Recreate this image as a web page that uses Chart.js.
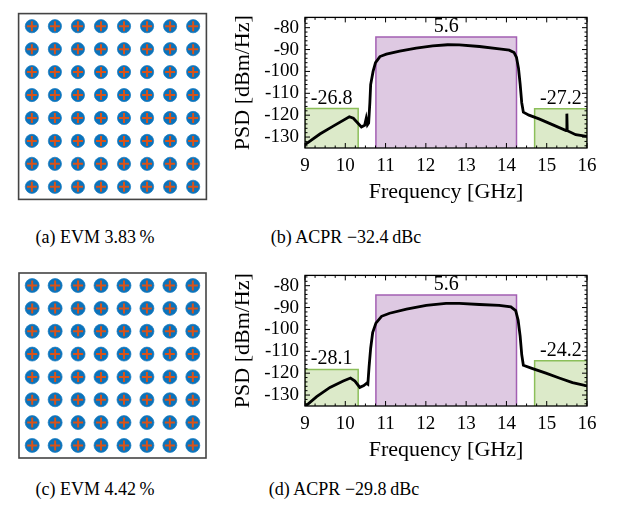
<!DOCTYPE html>
<html>
<head>
<meta charset="utf-8">
<script src="https://cdn.jsdelivr.net/npm/chart.js@4.4.1/dist/chart.umd.min.js"></script>
<style>
  body { margin: 0; background: #fff; width: 628px; height: 506px; position: relative; overflow: hidden; font-family: "Liberation Serif", serif; }
  .box { position: absolute; }
  .cap { position: absolute; font-size: 18px; white-space: nowrap; transform: translate(-50%, -50%); color: #000; }
</style>
</head>
<body>
<div class="box" style="left:11px;top:6px;width:203px;height:201px"><canvas id="evmA"></canvas></div>
<div class="box" style="left:230px;top:0px;width:398px;height:210px"><canvas id="psdB"></canvas></div>
<div class="box" style="left:11px;top:265px;width:203px;height:201px"><canvas id="evmC"></canvas></div>
<div class="box" style="left:230px;top:258px;width:398px;height:210px"><canvas id="psdD"></canvas></div>

<div class="cap" style="left:95px;top:237px">(a) EVM 3.83&thinsp;%</div>
<div class="cap" style="left:346px;top:237px">(b) ACPR &minus;32.4&thinsp;dBc</div>
<div class="cap" style="left:95px;top:489px">(c) EVM 4.42&thinsp;%</div>
<div class="cap" style="left:344px;top:489px">(d) ACPR &minus;29.8&thinsp;dBc</div>

<script>
// 64-QAM levels (I and Q)
const qamLevels = [-7, -5, -3, -1, 1, 3, 5, 7];

// PSD axes
const xTicks = [9, 10, 11, 12, 13, 14, 15, 16];
const yTicks = [-80, -90, -100, -110, -120, -130];
const yMin = -135;
const yMax = -75.3;

// channel bands [start, end] in GHz: lower adjacent, main, upper adjacent
const bandEdges = [[9, 10.32], [10.76, 14.25], [14.70, 16]];

// (b)
const freqB = [9.00, 9.37, 9.70, 10.10, 10.20, 10.40, 10.48, 10.52, 10.55, 10.58, 10.61, 10.63, 10.69, 10.75,
  10.86, 11.02, 11.35, 11.76, 12.17, 12.54, 12.83, 13.33, 13.82, 14.07, 14.19, 14.25, 14.30, 14.34, 14.38,
  14.42, 14.56, 14.81, 15.14, 15.48, 15.50, 15.51, 15.72, 16.00];
const psdB = [-133.5, -128.6, -125.0, -120.7, -121.4, -125.4, -124.6, -121.4, -124.4, -123.6, -114.3, -106, -100, -96,
  -93.2, -92.1, -90.7, -89.3, -88.3, -87.8, -87.9, -88.6, -89.7, -90.3, -91.4, -93.6, -98.6, -105.7, -114.3,
  -118.6, -120.0, -121.7, -124.3, -127.0, -119.3, -127.1, -128.9, -129.7];
const bandTopsB = [-117.0, -84.3, -117.1];
const bandLabelsB = ["-26.8", "5.6", "-27.2"];

// (d)
const freqD = [9.00, 9.29, 9.62, 9.95, 10.13, 10.24, 10.36, 10.46, 10.53, 10.56, 10.59, 10.63, 10.68, 10.76,
  10.90, 11.10, 11.52, 12.01, 12.50, 12.83, 13.33, 13.82, 14.11, 14.23, 14.29, 14.34, 14.38, 14.42, 14.65,
  14.98, 15.31, 15.64, 16.00];
const psdD = [-135.3, -130.7, -126.5, -123.6, -122.2, -123.6, -126.5, -125.7, -124.6, -125.0, -117.2, -108.6, -101.4, -97.1,
  -94.0, -92.6, -90.7, -89.0, -88.1, -88.1, -88.6, -89.0, -89.7, -91.4, -95.7, -102.9, -111.5, -116.4, -117.9,
  -120.0, -122.2, -124.3, -125.8];
const bandTopsD = [-118.3, -84.3, -114.3];
const bandLabelsD = ["-28.1", "5.6", "-24.2"];

const serif = "Liberation Serif, Times New Roman, serif";
const bandLine = ["#8cbf5a", "#a35fb3", "#8cbf5a"];
const bandFill = ["rgba(119,172,48,0.26)", "rgba(126,47,142,0.26)", "rgba(119,172,48,0.26)"];

Chart.defaults.font.family = serif;

const framePlugin = {
  id: "frame",
  afterDatasetsDraw(chart, args, opts) {
    const ctx = chart.ctx;
    const a = chart.chartArea;
    ctx.save();
    ctx.strokeStyle = opts.color;
    if (opts.ticks) {
      const xs = chart.scales.x, ys = chart.scales.y;
      ctx.lineWidth = 1;
      ctx.beginPath();
      for (let v = 9; v <= 16.001; v += 0.25) {
        const len = Math.abs(v - Math.round(v)) < 0.01 ? 5 : 2.5;
        const px = xs.getPixelForValue(v);
        ctx.moveTo(px, a.bottom); ctx.lineTo(px, a.bottom - len);
        ctx.moveTo(px, a.top); ctx.lineTo(px, a.top + len);
      }
      for (let v = -134; v <= -76; v += 2) {
        const len = v % 10 === 0 ? 5 : 2.5;
        const py = ys.getPixelForValue(v);
        ctx.moveTo(a.left, py); ctx.lineTo(a.left + len, py);
        ctx.moveTo(a.right, py); ctx.lineTo(a.right - len, py);
      }
      ctx.stroke();

      // band power labels
      ctx.fillStyle = "#000";
      ctx.font = "20px " + serif;
      ctx.textAlign = "center";
      ctx.textBaseline = "alphabetic";
      opts.labels.forEach((t, k) => {
        const cx = xs.getPixelForValue((bandEdges[k][0] + bandEdges[k][1]) / 2);
        const cy = ys.getPixelForValue(opts.tops[k]);
        ctx.fillText(t, cx, cy - 5);
      });
    }
    ctx.lineWidth = opts.width;
    ctx.strokeRect(a.left, a.top, a.right - a.left, a.bottom - a.top);
    ctx.restore();
  }
};

function makeConstellation(id, spread) {
  const ideal = [];
  qamLevels.forEach(i => qamLevels.forEach(q => ideal.push({ x: i, y: q })));
  new Chart(document.getElementById(id), {
    type: "scatter",
    data: {
      datasets: [
        { data: ideal, pointStyle: "cross", pointRadius: 5, borderColor: "#d95319", borderWidth: 2, order: 0 },
        { data: ideal, pointRadius: spread, backgroundColor: "#0b73bb", borderColor: "rgba(26,124,192,0.7)", borderWidth: 1, order: 1 }
      ]
    },
    plugins: [framePlugin],
    options: {
      responsive: true,
      maintainAspectRatio: false,
      animation: false,
      layout: { padding: 2 },
      scales: {
        x: { display: false, min: -8.15, max: 8.15 },
        y: { display: false, min: -8.1, max: 8.1 }
      },
      plugins: {
        legend: { display: false },
        tooltip: { enabled: false },
        frame: { color: "#444", width: 1.6, ticks: false }
      }
    }
  });
}

function makePsd(id, freq, psd, tops, labels) {
  const line = {
    data: freq.map((f, i) => ({ x: f, y: psd[i] })),
    borderColor: "#000",
    borderWidth: 2.8,
    pointRadius: 0,
    tension: 0,
    fill: false,
    order: 0
  };
  const bands = bandEdges.map((e, k) => ({
    data: [{ x: e[0], y: yMin }, { x: e[0], y: tops[k] }, { x: e[1], y: tops[k] }, { x: e[1], y: yMin }],
    borderColor: bandLine[k],
    backgroundColor: bandFill[k],
    borderWidth: 1.5,
    pointRadius: 0,
    tension: 0,
    fill: "start",
    order: 1
  }));
  new Chart(document.getElementById(id), {
    type: "line",
    data: { datasets: [line, ...bands] },
    plugins: [framePlugin],
    options: {
      responsive: true,
      maintainAspectRatio: false,
      animation: false,
      layout: { padding: { top: 9, right: 41, left: 0, bottom: 0 } },
      scales: {
        x: {
          type: "linear", min: 9, max: 16,
          afterBuildTicks: s => { s.ticks = xTicks.map(v => ({ value: v })); },
          afterFit: s => { s.height = 62; },
          grid: { display: false, drawTicks: false },
          border: { display: false },
          ticks: { color: "#000", font: { family: serif, size: 19 }, padding: 7, maxRotation: 0 },
          title: { display: true, text: "Frequency [GHz]", color: "#000", font: { family: serif, size: 22 }, padding: { top: 0, bottom: 5 } }
        },
        y: {
          type: "linear", min: yMin, max: yMax,
          afterBuildTicks: s => { s.ticks = yTicks.map(v => ({ value: v })); },
          afterFit: s => { s.width = 75; },
          grid: { display: false, drawTicks: false },
          border: { display: false },
          ticks: { color: "#000", font: { family: serif, size: 19 }, padding: 6 },
          title: { display: true, text: "PSD [dBm/Hz]", color: "#000", font: { family: serif, size: 22 }, padding: { top: 0, bottom: 0 } }
        }
      },
      plugins: {
        legend: { display: false },
        tooltip: { enabled: false },
        frame: { color: "#000", width: 1.3, ticks: true, labels: labels, tops: tops }
      }
    }
  });
}

function drawAll() {
  makeConstellation("evmA", 6.6);
  makePsd("psdB", freqB, psdB, bandTopsB, bandLabelsB);
  makeConstellation("evmC", 7.0);
  makePsd("psdD", freqD, psdD, bandTopsD, bandLabelsD);
}

document.fonts.load("20px 'Liberation Serif'").then(drawAll, drawAll);
</script>
</body>
</html>
